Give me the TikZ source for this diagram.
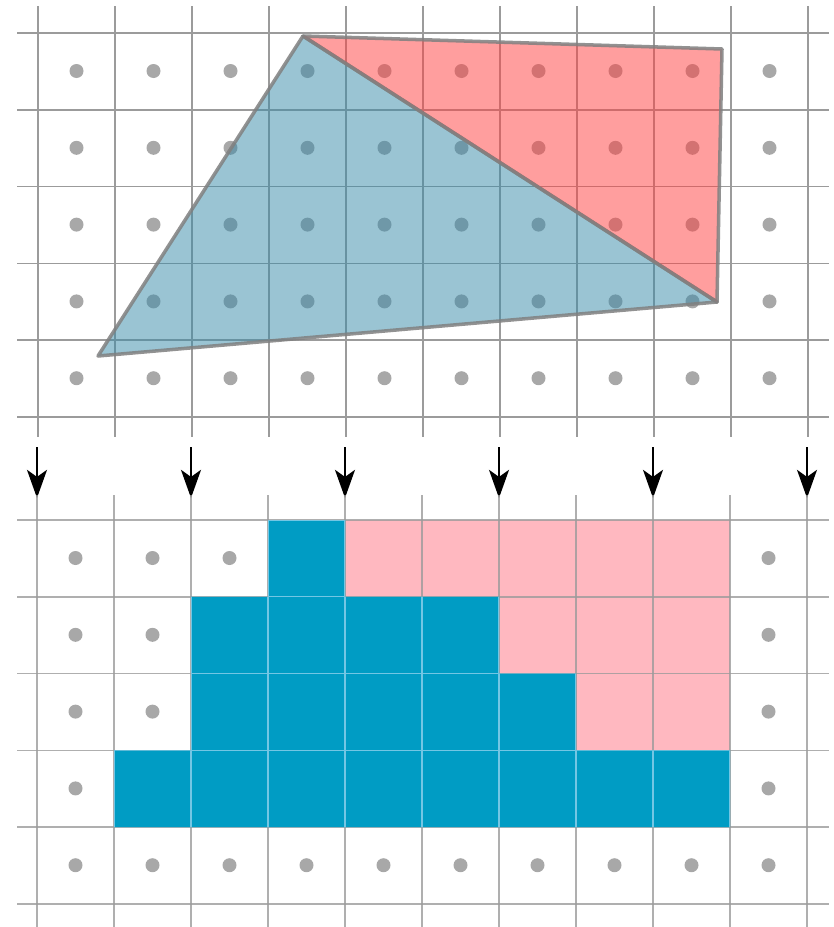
\documentclass[tikz,border=0pt]{standalone}
\usepackage{tikz}
\usetikzlibrary{arrows.meta}

\definecolor{gridgray}{RGB}{155,155,155}
\definecolor{dotgray}{RGB}{168,168,168}
\definecolor{triblue}{RGB}{55,138,168}
\definecolor{trired}{RGB}{255,62,62}
\definecolor{pixblue}{RGB}{0,156,196}
\definecolor{pixpink}{RGB}{255,184,192}
\definecolor{seamblue}{RGB}{115,198,228}

\begin{document}
\begin{tikzpicture}[
  x=0.3mm, y=-0.3mm,
  gridline/.style = {draw=gridgray, line width=1.3pt},
  sample/.style   = {fill=dotgray},
  tri/.style      = {draw=gray, line width=3pt, line join=round, fill opacity=0.5, draw opacity=0.85},
  pixb/.style     = {fill=pixblue},
  pixp/.style     = {fill=pixpink},
  probe/.style    = {line width=2pt, -{Stealth[length=24pt, width=17pt, inset=6pt]}},
]
  \useasboundingbox[fill=white] (0,0) rectangle (834,927);

  % top: sample points and grid
  \foreach \c in {0,...,9}
    \foreach \r in {0,...,4}
      \fill[sample] (76.5+77*\c, 71+76.8*\r) circle (7);
  \foreach \k in {0,...,10}
    \draw[gridline] (38+77*\k, 6) -- (38+77*\k, 437);
  \foreach \k in {0,...,5}
    \draw[gridline] (17, 33+76.8*\k) -- (829, 33+76.8*\k);

  % the two triangles
  \coordinate (apex) at (303,36);
  \coordinate (lft)  at (98,356);
  \coordinate (rgt)  at (717,302);
  \coordinate (crn)  at (722,49);
  \draw[tri, fill=triblue] (apex) -- (lft) -- (rgt) -- cycle;
  \draw[tri, fill=trired]  (apex) -- (crn) -- (rgt) -- cycle;

  % sampling arrows
  \foreach \k in {0,...,5} {
    \coordinate (src\k) at (37+154*\k, 447);
    \coordinate (dst\k) at (37+154*\k, 498);
    \draw[probe] (src\k) -- (dst\k);
  }

  % bottom: rasterised result
  \foreach \c in {0,...,9}
    \foreach \r in {0,...,4}
      \fill[sample] (75.5+77*\c, 558+76.8*\r) circle (7);
  \foreach \c/\r in {4/0,5/0,6/0,7/0,8/0, 6/1,7/1,8/1, 7/2,8/2}
    \fill[pixp] (37+77*\c, 520+76.8*\r) rectangle ++(77,76.8);
  \foreach \k in {0,...,10}
    \draw[gridline, draw opacity=0.8] (37+77*\k, 495) -- (37+77*\k, 927);
  \foreach \k in {0,...,5}
    \draw[gridline, draw opacity=0.8] (17, 520+76.8*\k) -- (829, 520+76.8*\k);
  \begin{scope}
    \clip (268,520) rectangle (345,596.8)
          (191,596.8) rectangle (499,673.6)
          (191,673.6) rectangle (576,750.4)
          (114,750.4) rectangle (730,827.2);
    \fill[pixb] (0,0) rectangle (834,927);
    \foreach \k in {0,...,10}
      \draw[seamblue, line width=1pt] (37+77*\k, 495) -- (37+77*\k, 927);
    \foreach \k in {0,...,5}
      \draw[seamblue, line width=1pt] (17, 520+76.8*\k) -- (829, 520+76.8*\k);
  \end{scope}
\end{tikzpicture}
\end{document}
